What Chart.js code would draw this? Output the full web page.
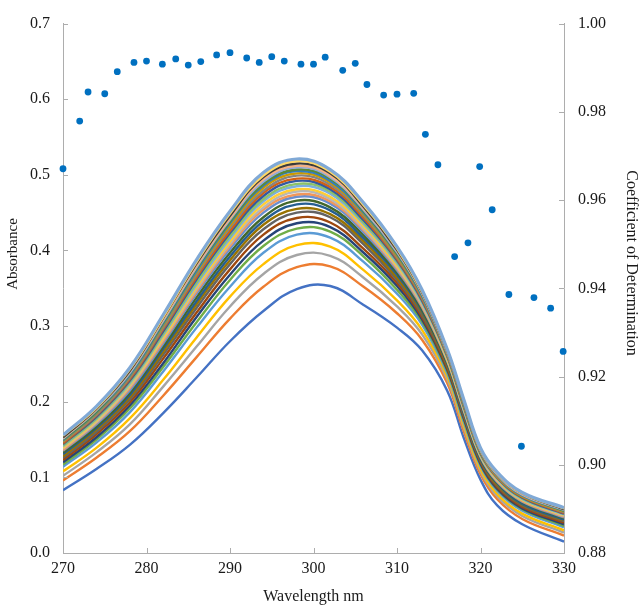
<!DOCTYPE html>
<html>
<head>
<meta charset="utf-8">
<script src="https://cdn.jsdelivr.net/npm/chart.js@4.4.1/dist/chart.umd.min.js"></script>
<style>
  html, body { margin: 0; padding: 0; background: #ffffff; }
  #wrap { width: 639px; height: 605px; }
</style>
</head>
<body>
<div id="wrap"><canvas id="c" width="639" height="605"></canvas></div>
<script>
// ---------- DATA ----------
// wavelengths (nm) at which the absorbance spectra were read
const wavelengths = [270, 274, 278, 282, 286, 290, 294, 298, 302, 306, 310, 313, 316, 318, 320, 322, 325, 330];

// absorbance spectra, lowest to highest
const spec01 = [0.083, 0.111, 0.143, 0.185, 0.232, 0.280, 0.320, 0.349, 0.353, 0.328, 0.298, 0.268, 0.215, 0.152, 0.097, 0.063, 0.038, 0.015];
const spec02 = [0.096, 0.126, 0.161, 0.208, 0.259, 0.310, 0.352, 0.378, 0.379, 0.352, 0.317, 0.282, 0.225, 0.161, 0.104, 0.071, 0.045, 0.023];
const spec03 = [0.102, 0.133, 0.170, 0.220, 0.273, 0.326, 0.369, 0.394, 0.393, 0.364, 0.326, 0.289, 0.230, 0.166, 0.108, 0.075, 0.049, 0.027];
const spec04 = [0.108, 0.139, 0.178, 0.229, 0.285, 0.339, 0.382, 0.407, 0.405, 0.374, 0.334, 0.295, 0.234, 0.169, 0.111, 0.078, 0.052, 0.030];
const spec05 = [0.114, 0.146, 0.186, 0.240, 0.298, 0.352, 0.397, 0.421, 0.417, 0.385, 0.343, 0.302, 0.238, 0.173, 0.115, 0.082, 0.056, 0.034];
const spec06 = [0.117, 0.150, 0.191, 0.246, 0.305, 0.361, 0.406, 0.429, 0.425, 0.392, 0.348, 0.306, 0.241, 0.176, 0.117, 0.084, 0.058, 0.036];
const spec07 = [0.120, 0.153, 0.195, 0.251, 0.312, 0.368, 0.413, 0.436, 0.431, 0.397, 0.353, 0.309, 0.243, 0.178, 0.118, 0.085, 0.059, 0.038];
const spec08 = [0.123, 0.157, 0.199, 0.257, 0.318, 0.375, 0.421, 0.443, 0.437, 0.402, 0.357, 0.312, 0.245, 0.180, 0.120, 0.087, 0.061, 0.040];
const spec09 = [0.126, 0.160, 0.203, 0.262, 0.324, 0.382, 0.428, 0.450, 0.444, 0.408, 0.361, 0.315, 0.248, 0.182, 0.122, 0.089, 0.063, 0.042];
const spec10 = [0.128, 0.163, 0.206, 0.266, 0.329, 0.387, 0.434, 0.455, 0.448, 0.412, 0.364, 0.318, 0.249, 0.184, 0.123, 0.090, 0.064, 0.043];
const spec11 = [0.131, 0.165, 0.209, 0.270, 0.333, 0.392, 0.439, 0.461, 0.453, 0.416, 0.368, 0.320, 0.251, 0.185, 0.124, 0.092, 0.065, 0.044];
const spec12 = [0.133, 0.167, 0.212, 0.273, 0.338, 0.397, 0.444, 0.466, 0.457, 0.420, 0.371, 0.322, 0.252, 0.187, 0.126, 0.093, 0.067, 0.046];
const spec13 = [0.135, 0.170, 0.215, 0.277, 0.343, 0.402, 0.450, 0.471, 0.462, 0.424, 0.374, 0.325, 0.254, 0.188, 0.127, 0.094, 0.068, 0.047];
const spec14 = [0.136, 0.172, 0.218, 0.280, 0.346, 0.406, 0.454, 0.474, 0.465, 0.427, 0.376, 0.326, 0.255, 0.189, 0.128, 0.095, 0.069, 0.048];
const spec15 = [0.138, 0.173, 0.220, 0.283, 0.349, 0.409, 0.457, 0.478, 0.468, 0.429, 0.378, 0.328, 0.256, 0.190, 0.129, 0.096, 0.070, 0.049];
const spec16 = [0.139, 0.175, 0.222, 0.285, 0.352, 0.412, 0.461, 0.481, 0.471, 0.432, 0.380, 0.330, 0.257, 0.191, 0.129, 0.097, 0.070, 0.050];
const spec17 = [0.141, 0.177, 0.224, 0.288, 0.355, 0.416, 0.465, 0.485, 0.475, 0.435, 0.383, 0.331, 0.259, 0.192, 0.130, 0.098, 0.071, 0.051];
const spec18 = [0.142, 0.178, 0.226, 0.290, 0.358, 0.419, 0.468, 0.488, 0.478, 0.437, 0.385, 0.333, 0.260, 0.193, 0.131, 0.099, 0.072, 0.052];
const spec19 = [0.144, 0.180, 0.228, 0.293, 0.362, 0.423, 0.472, 0.492, 0.481, 0.440, 0.387, 0.334, 0.261, 0.194, 0.132, 0.100, 0.073, 0.052];
const spec20 = [0.145, 0.182, 0.230, 0.296, 0.365, 0.426, 0.476, 0.495, 0.484, 0.443, 0.389, 0.336, 0.262, 0.195, 0.133, 0.100, 0.074, 0.053];
const spec21 = [0.147, 0.183, 0.232, 0.298, 0.368, 0.430, 0.479, 0.499, 0.487, 0.446, 0.391, 0.338, 0.263, 0.196, 0.134, 0.101, 0.075, 0.054];
const spec22 = [0.148, 0.185, 0.234, 0.301, 0.371, 0.433, 0.483, 0.502, 0.490, 0.448, 0.393, 0.339, 0.264, 0.197, 0.134, 0.102, 0.075, 0.055];
const spec23 = [0.149, 0.186, 0.235, 0.303, 0.373, 0.436, 0.486, 0.505, 0.492, 0.450, 0.395, 0.340, 0.265, 0.198, 0.135, 0.103, 0.076, 0.056];
const spec24 = [0.150, 0.187, 0.237, 0.305, 0.376, 0.438, 0.488, 0.507, 0.495, 0.452, 0.396, 0.342, 0.266, 0.199, 0.136, 0.104, 0.077, 0.056];
const spec25 = [0.151, 0.189, 0.238, 0.307, 0.378, 0.441, 0.491, 0.510, 0.497, 0.454, 0.398, 0.343, 0.266, 0.200, 0.136, 0.104, 0.077, 0.057];
const spec26 = [0.152, 0.190, 0.240, 0.309, 0.380, 0.443, 0.494, 0.512, 0.499, 0.456, 0.400, 0.344, 0.267, 0.201, 0.137, 0.105, 0.078, 0.058];
const spec27 = [0.153, 0.191, 0.241, 0.311, 0.383, 0.446, 0.497, 0.515, 0.502, 0.458, 0.401, 0.345, 0.268, 0.201, 0.138, 0.106, 0.079, 0.058];
const spec28 = [0.155, 0.192, 0.243, 0.312, 0.385, 0.449, 0.499, 0.518, 0.504, 0.460, 0.403, 0.346, 0.269, 0.202, 0.138, 0.106, 0.079, 0.059];
const spec29 = [0.156, 0.194, 0.245, 0.315, 0.388, 0.452, 0.503, 0.521, 0.507, 0.463, 0.405, 0.348, 0.270, 0.203, 0.139, 0.107, 0.080, 0.060];

// coefficient of determination (right axis)
const r2Wavelengths = [270.0, 272.0, 273.0, 275.0, 276.5, 278.5, 280.0, 281.9, 283.5, 285.0, 286.5, 288.4, 290.0, 292.0, 293.5, 295.0, 296.5, 298.5, 300.0, 301.4, 303.5, 305.0, 306.4, 308.4, 310.0, 312.0, 313.4, 314.9, 316.9, 318.5, 319.9, 321.4, 323.4, 324.9, 326.4, 328.4, 329.9];
const r2Values = [0.9671, 0.9779, 0.9845, 0.9841, 0.9891, 0.9912, 0.9915, 0.9908, 0.9920, 0.9906, 0.9914, 0.9929, 0.9934, 0.9922, 0.9912, 0.9925, 0.9915, 0.9908, 0.9908, 0.9924, 0.9894, 0.9910, 0.9862, 0.9838, 0.9840, 0.9842, 0.9749, 0.9680, 0.9472, 0.9503, 0.9676, 0.9578, 0.9386, 0.9042, 0.9379, 0.9355, 0.9257];

// axis tick ranges
const xTicks = { min: 270, max: 330, step: 10 };
const yTicks = { min: 0, max: 0.7, step: 0.1 };
const y2Ticks = { min: 0.88, max: 1.00, step: 0.02 };

// axis titles
const xTitle = 'Wavelength nm';
const yTitle = 'Absorbance';
const y2Title = 'Coefficient of Determination';

// ---------- STYLE ----------
const spectra = [spec01, spec02, spec03, spec04, spec05, spec06, spec07, spec08, spec09, spec10,
  spec11, spec12, spec13, spec14, spec15, spec16, spec17, spec18, spec19, spec20,
  spec21, spec22, spec23, spec24, spec25, spec26, spec27, spec28, spec29];
const palette = ['#4472C4', '#ED7D31', '#A5A5A5', '#FFC000', '#5B9BD5', '#70AD47',
  '#264478', '#9E480E', '#636363', '#997300', '#255E91', '#43682B',
  '#698ED0', '#F1975A', '#B7B7B7', '#FFCD33', '#7CAFDD', '#8CC168',
  '#335AA1', '#D26012', '#848484', '#CC9A00', '#327DC2', '#5A8A39',
  '#8FAADC', '#F4B183', '#3B3B3B', '#FFD966', '#80A9D6'];
const AXIS = '#ADADAD';
const TEXT = '#1a1a1a';
const FONT = 'Liberation Serif';

const datasets = spectra.map((arr, i) => ({
  type: 'line',
  label: 'S' + (i + 1),
  data: wavelengths.map((w, j) => ({ x: w, y: arr[j] })),
  borderColor: palette[i % palette.length],
  borderWidth: i === spectra.length - 1 ? 3.2 : 2.4,
  pointRadius: 0,
  tension: 0.4,
  fill: false,
  yAxisID: 'y',
  order: spectra.length - i + 1
}));
datasets.push({
  type: 'scatter',
  label: 'R2',
  data: r2Wavelengths.map((w, j) => ({ x: w, y: r2Values[j] })),
  backgroundColor: '#0070C0',
  borderWidth: 0,
  pointRadius: 3.4,
  showLine: false,
  yAxisID: 'y2',
  clip: false,
  order: 0
});

const innerTicks = {
  id: 'innerTicks',
  afterDraw(chart) {
    const { ctx, chartArea: a, scales } = chart;
    ctx.save();
    ctx.strokeStyle = AXIS;
    ctx.lineWidth = 1;
    ctx.beginPath();
    scales.x.ticks.forEach(t => {
      const px = Math.round(scales.x.getPixelForValue(t.value)) + 0.5;
      ctx.moveTo(px, a.bottom); ctx.lineTo(px, a.bottom - 5);
    });
    scales.y.ticks.forEach(t => {
      const py = Math.round(scales.y.getPixelForValue(t.value)) + 0.5;
      ctx.moveTo(a.left, py); ctx.lineTo(a.left + 5, py);
    });
    scales.y2.ticks.forEach(t => {
      const py = Math.round(scales.y2.getPixelForValue(t.value)) + 0.5;
      ctx.moveTo(a.right, py); ctx.lineTo(a.right - 5, py);
    });
    ctx.stroke();
    // vertical axis titles (placed where the reference has them)
    ctx.fillStyle = TEXT;
    ctx.font = '15px "' + FONT + '"';
    ctx.textAlign = 'center';
    ctx.textBaseline = 'middle';
    ctx.save();
    ctx.translate(13, 254);
    ctx.rotate(-Math.PI / 2);
    ctx.fillText(yTitle, 0, 0);
    ctx.restore();
    ctx.font = '16px "' + FONT + '"';
    ctx.save();
    ctx.translate(631, 263);
    ctx.rotate(Math.PI / 2);
    ctx.fillText(y2Title, 0, 0);
    ctx.restore();
    ctx.restore();
  }
};

new Chart(document.getElementById('c'), {
  type: 'line',
  data: { datasets },
  plugins: [innerTicks],
  options: {
    responsive: false,
    devicePixelRatio: 1,
    animation: false,
    layout: { padding: { top: 20, left: 0, right: 0, bottom: 0 } },
    plugins: { legend: { display: false }, tooltip: { enabled: false } },
    scales: {
      x: {
        type: 'linear',
        min: xTicks.min, max: xTicks.max,
        afterFit: s => { s.height = 52; },
        ticks: { stepSize: xTicks.step, color: TEXT, font: { family: FONT, size: 16 }, padding: 6, maxRotation: 0 },
        grid: { display: false, drawTicks: false },
        border: { display: true, color: AXIS, width: 1 },
        title: { display: true, text: xTitle, color: TEXT, font: { family: FONT, size: 16 }, padding: { top: 0, bottom: -1 } }
      },
      y: {
        position: 'left',
        min: yTicks.min, max: yTicks.max,
        afterFit: s => { s.width = 63; },
        ticks: { stepSize: yTicks.step, color: TEXT, font: { family: FONT, size: 16 }, padding: 13, callback: v => Number(v).toFixed(1) },
        grid: { display: false, drawTicks: false },
        border: { display: true, color: AXIS, width: 1 },
        title: { display: false }
      },
      y2: {
        position: 'right',
        min: y2Ticks.min, max: y2Ticks.max,
        afterFit: s => { s.width = 75; },
        ticks: { stepSize: y2Ticks.step, color: TEXT, font: { family: FONT, size: 16 }, padding: 14, callback: v => Number(v).toFixed(2) },
        grid: { display: false, drawTicks: false },
        border: { display: true, color: AXIS, width: 1 },
        title: { display: false }
      }
    }
  }
});
</script>
</body>
</html>
